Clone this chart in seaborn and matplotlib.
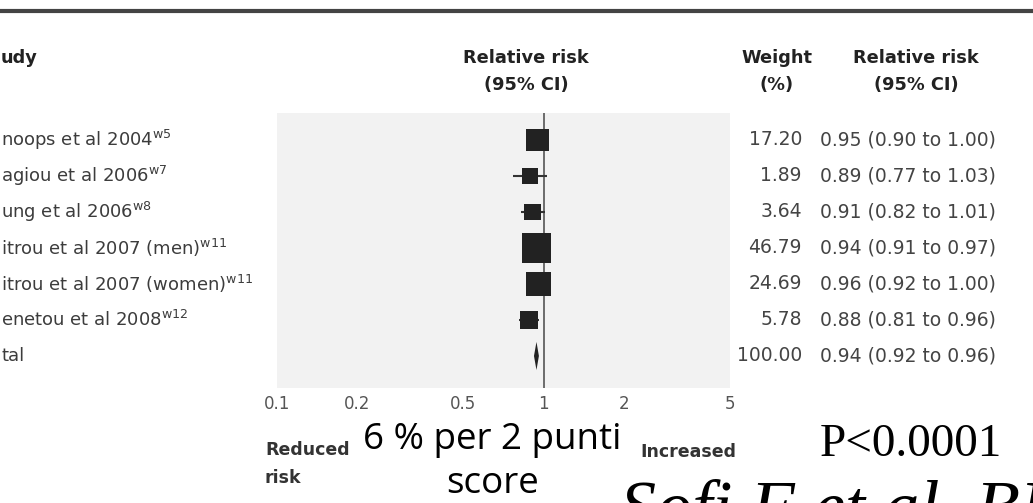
import numpy as np
import pandas as pd
import matplotlib
matplotlib.use("Agg")
import matplotlib.pyplot as plt
import matplotlib.transforms as mtransforms
from matplotlib.lines import Line2D
import seaborn as sns

# data (study names are cut at the left edge in the picture)
studies = ["noops et al 2004", "agiou et al 2006", "ung et al 2006",
           "itrou et al 2007 (men)", "itrou et al 2007 (women)",
           "enetou et al 2008", "tal"]
refs = ["w5", "w7", "w8", "w11", "w11", "w12", ""]
weights = [17.20, 1.89, 3.64, 46.79, 24.69, 5.78, 100.00]
rr = [0.95, 0.89, 0.91, 0.94, 0.96, 0.88, 0.94]
ci_low = [0.90, 0.77, 0.82, 0.91, 0.92, 0.81, 0.92]
ci_high = [1.00, 1.03, 1.01, 0.97, 1.00, 0.96, 0.96]
tick_vals = [0.1, 0.2, 0.5, 1, 2, 5]
tick_labels = ["0.1", "0.2", "0.5", "1", "2", "5"]

sns.set_theme(style="white")
plt.rcParams['font.family'] = ['DejaVu Sans']

W, H = 1033, 503
fig = plt.figure(figsize=(W / 100, H / 100), dpi=100)
fig.patch.set_facecolor("white")

def fx(px):
    return px / W

def fy(py):
    return 1 - py / H

# plot panel
ax = fig.add_axes([fx(277), fy(388), fx(730) - fx(277), fy(113) - fy(388)])
ax.set_facecolor("#f2f2f2")
ax.set_xscale("log")
ax.set_xlim(0.1, 5)
ax.set_ylim(6.89, -0.75)
for s in ax.spines.values():
    s.set_visible(False)

rows = np.arange(len(studies))
n = len(studies) - 1

df = pd.DataFrame({"rr": rr[:n], "row": rows[:n], "weight": weights[:n]})
sizes = {w: ((12 + 2.6 * np.sqrt(w)) * 0.72) ** 2 for w in weights[:n]}

ax.axvline(1, color="#555555", lw=1.2, zorder=1)
ax.hlines(rows[:n], ci_low[:n], ci_high[:n], color="#333333", lw=1.5, zorder=2)
sns.scatterplot(data=df, x="rr", y="row", size="weight", sizes=sizes,
                marker="s", color="#222222", linewidth=0, legend=False,
                ax=ax, zorder=3)

# pooled estimate diamond
h = 0.39
ax.fill([ci_low[n], rr[n], ci_high[n], rr[n]],
        [rows[n], rows[n] - h, rows[n], rows[n] + h],
        color="#222222", lw=0, zorder=3)

ax.set_xticks(tick_vals)
ax.set_xticklabels(tick_labels)
ax.xaxis.set_minor_locator(matplotlib.ticker.NullLocator())
ax.tick_params(axis="x", length=0, pad=5, labelsize=12, labelcolor="#555555")
ax.set_yticks([])
ax.set_xlabel("")
ax.set_ylabel("")

# rows of text next to the panel
tr = mtransforms.blended_transform_factory(fig.transFigure, ax.transData)
for i in rows:
    name = studies[i]
    if refs[i]:
        name = name + r"$^{\mathrm{" + refs[i] + "}}$"
    fig.text(fx(1), rows[i], name, transform=tr, ha="left", va="center",
             fontsize=13, color="#3c3c3c")
    fig.text(fx(802), rows[i], f"{weights[i]:.2f}", transform=tr, ha="right",
             va="center", fontsize=13.5, color="#444444")
    fig.text(fx(820), rows[i], f"{rr[i]:.2f} ({ci_low[i]:.2f} to {ci_high[i]:.2f})",
             transform=tr, ha="left", va="center", fontsize=13.5, color="#444444")

# headers
hdr = dict(fontsize=12.8, fontweight="bold", color="#222222", va="center")
fig.text(fx(1), fy(58), "udy", ha="left", **hdr)
fig.text(fx(526), fy(58), "Relative risk", ha="center", **hdr)
fig.text(fx(526), fy(85), "(95% CI)", ha="center", **hdr)
fig.text(fx(777), fy(58), "Weight", ha="center", **hdr)
fig.text(fx(777), fy(85), "(%)", ha="center", **hdr)
fig.text(fx(916), fy(58), "Relative risk", ha="center", **hdr)
fig.text(fx(916), fy(85), "(95% CI)", ha="center", **hdr)

# top rule
fig.add_artist(Line2D([0, 1], [fy(11), fy(11)], transform=fig.transFigure,
                      color="#444444", lw=3))

# bottom labels
low = dict(fontsize=12.5, fontweight="bold", color="#333333", va="center", ha="left")
fig.text(fx(265), fy(450), "Reduced", **low)
fig.text(fx(265), fy(478), "risk", **low)
fig.text(fx(640), fy(452), "Increased", **low)

# overlay notes
fig.text(fx(492), fy(449), "6 % per 2 punti", ha="center", va="baseline",
         fontsize=26.5, color="black", family=["Open Sans"])
fig.text(fx(493), fy(484), "score", ha="center", va="center",
         fontsize=26.5, color="black", family=["Open Sans"])
fig.text(fx(820), fy(445), "P<0.0001", ha="left", va="center",
         fontsize=34, color="black", family=["Liberation Serif"])
fig.text(fx(620), fy(530), "Sofi F et al, BMJ 2008", ha="left", va="baseline",
         fontsize=52, color="black", family=["Liberation Serif"], style="italic")

fig.savefig("out.png", dpi=100, facecolor="white")
